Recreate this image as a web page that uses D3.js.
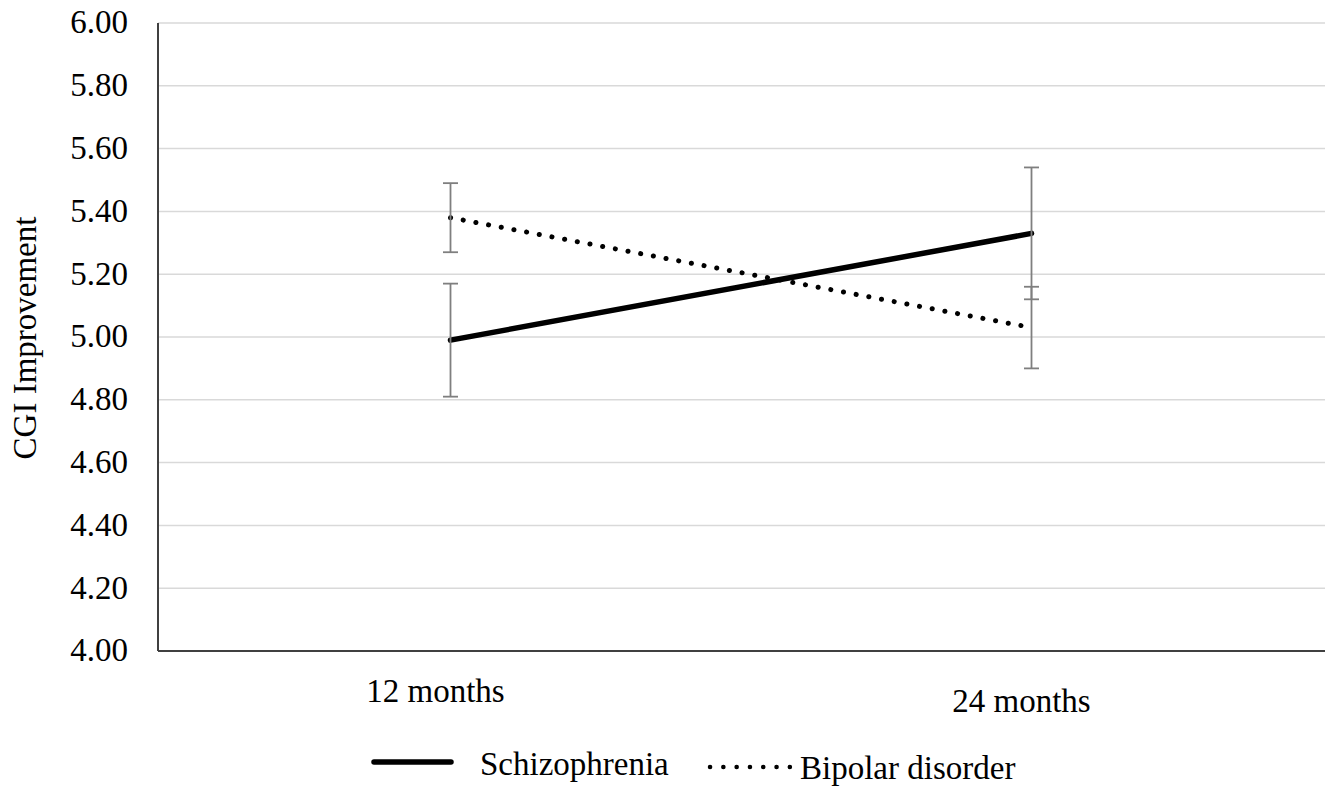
<!DOCTYPE html>
<html>
<head>
<meta charset="utf-8">
<script src="https://cdn.jsdelivr.net/npm/d3@7"></script>
<style>
  body { margin: 0; background: #fff; }
  text { font-family: "Liberation Serif", "Times New Roman", serif; fill: #000; }
</style>
</head>
<body>
<div id="chart"></div>
<script>

// data
const months = ["12 months", "24 months"]
const schizo = [4.99, 5.33]
const schizoErr = [0.18, 0.21]
const bipolar = [5.38, 5.03]
const bipolarErr = [0.11, 0.13]
const yTicks = [4.0, 4.2, 4.4, 4.6, 4.8, 5.0, 5.2, 5.4, 5.6, 5.8, 6.0]

const config = {
    top: 23,
    bottom: 651,
    left: 158,
    right: 1325,
}

const width = 1328
const height = 790

const svg = d3.select('#chart').append('svg').attr("width", width).attr("height", height)

const yScale = d3.scaleLinear().domain([4, 6]).range([config.bottom, config.top])
const xScale = d3.scalePoint().domain(months).range([160, 1322]).padding(0.5)

// gridlines
svg.append('g')
    .selectAll('line')
    .data(yTicks.filter(d => d > 4))
    .enter()
    .append('line')
    .attr("x1", config.left)
    .attr("x2", config.right)
    .attr("y1", d => yScale(d))
    .attr("y2", d => yScale(d))
    .attr("stroke", "#d9d9d9")
    .attr("stroke-width", 1.5)

// y axis, labels only, domain drawn by hand below
const axisLeft = d3.axisLeft(yScale).tickValues(yTicks).tickFormat(d3.format(".2f")).tickSize(0).tickPadding(30)
svg.append('g')
    .attr("transform", `translate(${config.left},0)`)
    .call(axisLeft)
    .call(g => g.select(".domain").remove())
    .selectAll("text")
    .attr("font-family", "Liberation Serif, Times New Roman, serif")
    .attr("font-size", 33)
    .attr("fill", "#000")
    .attr("dy", "0.3em")

// axis lines
svg.append('line')
    .attr("x1", config.left).attr("x2", config.left)
    .attr("y1", config.top).attr("y2", config.bottom)
    .attr("stroke", "#404040").attr("stroke-width", 2)
svg.append('line')
    .attr("x1", config.left).attr("x2", config.right)
    .attr("y1", config.bottom).attr("y2", config.bottom)
    .attr("stroke", "#404040").attr("stroke-width", 2)

// category labels (they sit a bit off in the original)
const labelShift = [[-15, 702], [-10, 712]]
svg.selectAll('.xlab')
    .data(months)
    .enter()
    .append('text')
    .attr("class", "xlab")
    .attr("x", (d, i) => xScale(d) + labelShift[i][0])
    .attr("y", (d, i) => labelShift[i][1])
    .attr("text-anchor", "middle")
    .attr("font-size", 33)
    .text(d => d)

// y title
svg.append('text')
    .attr("transform", "translate(36,338) rotate(-90)")
    .attr("text-anchor", "middle")
    .attr("font-size", 33)
    .text("CGI Improvement")

const lineGen = d3.line()
    .x((d, i) => xScale(months[i]))
    .y(d => yScale(d))

svg.append('path')
    .datum(schizo)
    .attr("d", lineGen)
    .attr("fill", "none")
    .attr("stroke", "#000")
    .attr("stroke-width", 5.5)
    .attr("stroke-linecap", "round")

svg.append('path')
    .datum(bipolar)
    .attr("d", lineGen)
    .attr("fill", "none")
    .attr("stroke", "#000")
    .attr("stroke-width", 5)
    .attr("stroke-linecap", "round")
    .attr("stroke-dasharray", "0.1 12.8")

// error bars
const errData = []
schizo.forEach((v, i) => errData.push({ m: months[i], v: v, e: schizoErr[i] }))
bipolar.forEach((v, i) => errData.push({ m: months[i], v: v, e: bipolarErr[i] }))

const errG = svg.append('g').attr("stroke", "#7f7f7f").attr("stroke-width", 1.8)
errData.forEach(function (d) {
    const x = xScale(d.m)
    errG.append('line')
        .attr("x1", x).attr("x2", x)
        .attr("y1", yScale(d.v + d.e)).attr("y2", yScale(d.v - d.e))
    errG.append('line')
        .attr("x1", x - 7.5).attr("x2", x + 7.5)
        .attr("y1", yScale(d.v + d.e)).attr("y2", yScale(d.v + d.e))
    errG.append('line')
        .attr("x1", x - 7.5).attr("x2", x + 7.5)
        .attr("y1", yScale(d.v - d.e)).attr("y2", yScale(d.v - d.e))
})

///// legend
svg.append('line')
    .attr("x1", 374).attr("x2", 451)
    .attr("y1", 762).attr("y2", 762)
    .attr("stroke", "#000").attr("stroke-width", 5.5)
    .attr("stroke-linecap", "round")
svg.append('text')
    .attr("x", 480).attr("y", 775)
    .attr("font-size", 33)
    .text("Schizophrenia")

svg.append('line')
    .attr("x1", 710).attr("x2", 790)
    .attr("y1", 767).attr("y2", 767)
    .attr("stroke", "#000").attr("stroke-width", 4.5)
    .attr("stroke-linecap", "round")
    .attr("stroke-dasharray", "0.1 13.2")
svg.append('text')
    .attr("x", 800).attr("y", 779)
    .attr("font-size", 33)
    .text("Bipolar disorder")

</script>
</body>
</html>
